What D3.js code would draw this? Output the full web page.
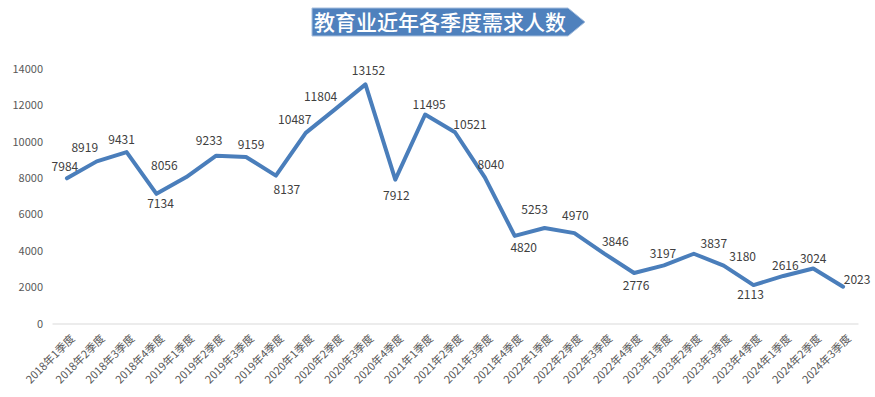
<!DOCTYPE html>
<html>
<head>
<meta charset="utf-8">
<script src="https://cdn.jsdelivr.net/npm/d3@7"></script>
<style>
  body { margin: 0; background: #fff; }
  svg text { font-family: "Noto Sans CJK SC", "Liberation Sans", sans-serif; }
</style>
</head>
<body>
<div id="chart"></div>
<script>
// 季度与需求人数
const quarters = [
  '2018年1季度', '2018年2季度', '2018年3季度', '2018年4季度',
  '2019年1季度', '2019年2季度', '2019年3季度', '2019年4季度',
  '2020年1季度', '2020年2季度', '2020年3季度', '2020年4季度',
  '2021年1季度', '2021年2季度', '2021年3季度', '2021年4季度',
  '2022年1季度', '2022年2季度', '2022年3季度', '2022年4季度',
  '2023年1季度', '2023年2季度', '2023年3季度', '2023年4季度',
  '2024年1季度', '2024年2季度', '2024年3季度'
];
const demand = [
  7984, 8919, 9431, 7134,
  8056, 9233, 9159, 8137,
  10487, 11804, 13152, 7912,
  11495, 10521, 8040, 4820,
  5253, 4970, 3846, 2776,
  3197, 3837, 3180, 2113,
  2616, 3024, 2023
];
const yTicks = [0, 2000, 4000, 6000, 8000, 10000, 12000, 14000];
const title = '教育业近年各季度需求人数';

// 数据标签相对点的偏移 (像原图那样有的在上、有的在下)
const labelNudge = [
  [-2, -12], [-12, -14], [-5, -12], [4, 10],
  [-22, -11], [-7, -15], [5, -12], [11, 14],
  [-11, -13], [-15, -12], [3, -14], [1, 16],
  [4, -10], [15, -7], [6, -13], [9, 12],
  [-10, -18], [1, -17], [11, -12], [2, 13],
  [-1, -12], [20, -10], [19, -9], [-3, 10],
  [2, -10], [0, -10], [14, -7]
];

const width = 875, height = 397;
const margin = { top: 69, right: 17, bottom: 73, left: 52 };

const svg = d3.select('#chart')
  .append('svg')
  .attr('width', width)
  .attr('height', height);

// 标题横幅
const bx0 = 312, bx1 = 568, tip = 585, by0 = 8, by1 = 36;
svg.append('path')
  .attr('d', `M${bx0},${by0}H${bx1}L${tip},${(by0 + by1) / 2}L${bx1},${by1}H${bx0}Z`)
  .attr('fill', '#4F81BD')
  .attr('stroke', '#A7BFDE')
  .attr('stroke-width', 1);
svg.append('text')
  .attr('x', (bx0 + bx1) / 2)
  .attr('y', (by0 + by1) / 2)
  .attr('dy', '0.36em')
  .attr('text-anchor', 'middle')
  .attr('fill', '#fff')
  .attr('font-size', '21px')
  .attr('font-weight', 500)
  .text(title);

const x = d3.scaleBand()
  .domain(quarters)
  .range([margin.left, width - margin.right]);

const y = d3.scaleLinear()
  .domain([0, 14000])
  .range([height - margin.bottom - 0.5, margin.top]);

// y 轴
const yAxis = svg.append('g')
  .attr('transform', `translate(${margin.left - 9},0)`)
  .call(d3.axisLeft(y).tickValues(yTicks).tickFormat(d3.format('d')).tickSize(0).tickPadding(0));
yAxis.select('.domain').remove();
yAxis.selectAll('text')
  .attr('fill', '#595959')
  .attr('font-size', '11px');

// x 轴
const xAxis = svg.append('g')
  .attr('transform', `translate(0,${y(0)})`)
  .call(d3.axisBottom(x).tickSize(0).tickPadding(0));
xAxis.select('.domain')
  .attr('stroke', '#D9D9D9')
  .attr('stroke-width', 1.2);
xAxis.selectAll('text')
  .attr('fill', '#595959')
  .attr('font-size', '11px')
  .attr('text-anchor', 'end')
  .attr('dy', '0.35em')
  .attr('transform', 'translate(6,13) rotate(-45)');

const cx = d => x(d) + x.bandwidth() / 2;

const line = d3.line()
  .x((d, i) => cx(quarters[i]))
  .y(d => y(d));

svg.append('path')
  .datum(demand)
  .attr('d', line)
  .attr('fill', 'none')
  .attr('stroke', '#4A7EBB')
  .attr('stroke-width', 4)
  .attr('stroke-linejoin', 'round')
  .attr('stroke-linecap', 'round');

svg.append('g')
  .selectAll('text')
  .data(demand)
  .join('text')
  .attr('x', (d, i) => cx(quarters[i]) + labelNudge[i][0])
  .attr('y', (d, i) => y(d) + labelNudge[i][1])
  .attr('dy', '0.35em')
  .attr('text-anchor', 'middle')
  .attr('fill', '#404040')
  .attr('font-size', '12px')
  .text(d => d);
</script>
</body>
</html>
